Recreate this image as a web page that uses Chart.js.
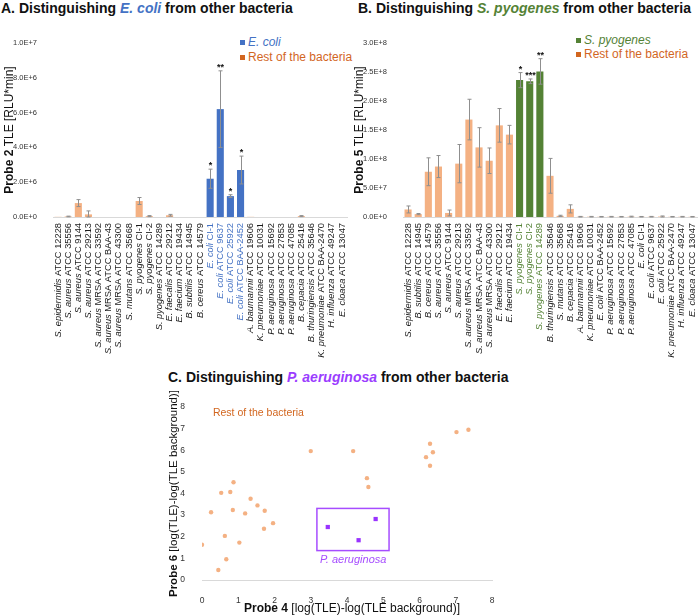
<!DOCTYPE html>
<html>
<head>
<meta charset="utf-8">
<script src="https://cdn.jsdelivr.net/npm/chart.js@4.4.1/dist/chart.umd.min.js"></script>
<style>
body{margin:0;background:#fff;font-family:"Liberation Sans",Arial,sans-serif;}
#page{position:relative;width:700px;height:616px;overflow:hidden;}
canvas{position:absolute;}
.title{position:absolute;font-size:14px;font-weight:bold;color:#111;white-space:nowrap;line-height:16px;}
.leg{position:absolute;font-size:12px;white-space:nowrap;line-height:14px;}
.sq{display:inline-block;width:5px;height:5px;margin-right:3px;vertical-align:1px;}
</style>
</head>
<body>
<div id="page">
  <div class="title" style="left:1px;top:0px">A. Distinguishing <i style="color:#4472c4">E. coli</i> from other bacteria</div>
  <div class="title" style="left:358px;top:0px">B. Distinguishing <i style="color:#548235">S. pyogenes</i> from other bacteria</div>
  <div class="title" style="left:168px;top:369px">C. Distinguishing <i style="color:#9b3dff">P. aeruginosa</i> from other bacteria</div>

  <div class="leg" style="left:240px;top:35px;color:#4472c4"><span class="sq" style="background:#4472c4"></span><i>E. coli</i></div>
  <div class="leg" style="left:240px;top:50px;color:#d2661f"><span class="sq" style="background:#d2661f"></span>Rest of the bacteria</div>
  <div class="leg" style="left:576px;top:33px;color:#548235"><span class="sq" style="background:#548235"></span><i>S. pyogenes</i></div>
  <div class="leg" style="left:576px;top:47px;color:#d2661f"><span class="sq" style="background:#d2661f"></span>Rest of the bacteria</div>

  <canvas id="chartA" width="350" height="360" style="left:0;top:0"></canvas>
  <canvas id="chartB" width="350" height="360" style="left:350px;top:0"></canvas>
  <canvas id="chartC" width="345" height="231" style="left:160px;top:385px"></canvas>
</div>
<script>
// ---- panel A: probe 2 ----
const catsA = [
  "S. epidermidis ATCC 12228", "S. aureus ATCC 35556", "S. aureus ATCC 9144", "S. aureus ATCC 29213",
  "S. aureus MRSA ATCC 33592", "S. aureus MRSA ATCC BAA-43", "S. aureus MRSA ATCC 43300", "S. mutans ATCC 35668",
  "S. pyogenes CI-1", "S. pyogenes CI-2", "S. pyogenes ATCC 14289", "E. faecalis ATCC 29212",
  "E. faecium ATCC 19434", "B. subtilis ATCC 14945", "B. cereus ATCC 14579", "E. coli CI-1",
  "E. coli ATCC 9637", "E. coli ATCC 25922", "E. coli ATCC BAA-2452", "A. baumannii ATCC 19606",
  "K. pneumoniae ATCC 10031", "P. aeruginosa ATCC 15692", "P. aeruginosa ATCC 27853", "P. aeruginosa ATCC 47085",
  "B. cepacia ATCC 25416", "B. thuringiensis ATCC 35646", "K. pneumoniae ATCC BAA-2470", "H. influenza ATCC 49247",
  "E. cloaca ATCC 13047"
];
const valsA = [0.01e6, 0.03e6, 0.8e6, 0.15e6, 0, 0, 0, 0, 0.92e6, 0.05e6, 0, 0.1e6, 0, 0, 0,
  2.2e6, 6.2e6, 1.2e6, 2.7e6, 0.01e6, 0, 0, 0, 0, 0.05e6, 0, 0, 0, 0];
const errsA = [0, 0.02e6, 0.2e6, 0.2e6, 0, 0, 0, 0, 0.2e6, 0.03e6, 0, 0.05e6, 0, 0, 0,
  0.55e6, 2.2e6, 0.08e6, 0.8e6, 0, 0, 0, 0, 0, 0.03e6, 0, 0, 0, 0];
const starsA = ["", "", "", "", "", "", "", "", "", "", "", "", "", "", "",
  "*", "**", "*", "*", "", "", "", "", "", "", "", "", "", ""];
const ticksA = {max: 1e7, step: 2e6};

// ---- panel B: probe 5 ----
const catsB = [
  "S. epidermidis ATCC 12228", "B. subtilis ATCC 14945", "B. cereus ATCC 14579", "S. aureus ATCC 35556",
  "S. aureus ATCC 9144", "S. aureus ATCC 29213", "S. aureus MRSA ATCC 33592", "S. aureus MRSA ATCC BAA-43",
  "S. aureus MRSA ATCC 43300", "E. faecalis ATCC 29212", "E. faecium ATCC 19434", "S. pyogenes CI-1",
  "S. pyogenes CI-2", "S. pyogenes ATCC 14289", "B. thuringiensis ATCC 35646", "S. mutans ATCC 35668",
  "B. cepacia ATCC 25416", "A. baumannii ATCC 19606", "K. pneumoniae ATCC 10031", "E. coli ATCC BAA-2452",
  "P. aeruginosa ATCC 15692", "P. aeruginosa ATCC 27853", "P. aeruginosa ATCC 47085", "E. coli CI-1",
  "E. coli ATCC 9637", "E. coli ATCC 25922", "K. pneumoniae ATCC BAA-2470", "H. influenza ATCC 49247",
  "E. cloaca ATCC 13047"
];
const valsB = [1.3e7, 0.5e7, 7.8e7, 8.7e7, 0.7e7, 9.2e7, 16.8e7, 12.0e7, 9.7e7, 15.8e7, 14.2e7,
  23.6e7, 23.4e7, 25.1e7, 7.1e7, 0.2e7, 1.4e7, 0.05e7, 0.05e7, 0.04e7, 0.05e7, 0.04e7, 0.06e7,
  0.04e7, 0.05e7, 0.08e7, 0.04e7, 0.05e7, 0.04e7];
const errsB = [0.6e7, 0.1e7, 2.4e7, 1.9e7, 0.5e7, 3.3e7, 3.5e7, 3.4e7, 2.2e7, 2.9e7, 1.6e7,
  1.3e7, 0.4e7, 2.2e7, 3.0e7, 0.1e7, 0.7e7, 0.05e7, 0.05e7, 0.05e7, 0.05e7, 0.05e7, 0.08e7,
  0.05e7, 0.05e7, 0.1e7, 0.05e7, 0.05e7, 0.05e7];
const starsB = ["", "", "", "", "", "", "", "", "", "", "", "*", "***", "**", "", "", "", "",
  "", "", "", "", "", "", "", "", "", "", ""];
const ticksB = {max: 3e8, step: 5e7};

// ---- panel C: probe 4 vs probe 6 ----
const restX = [0, 0.25, 0.53, 0.63, 0.67, 0.45, 0.78, 0.87, 0.85, 1.03, 1.19, 1.34, 1.53, 1.73, 1.71, 1.96,
  3.0, 4.17, 4.55, 4.59, 6.18, 6.29, 6.37, 6.29, 7.02, 7.35];
const restY = [1.63, 3.13, 4.03, 2.04, 0.96, 0.46, 4.07, 4.52, 3.24, 1.73, 3.08, 3.76, 3.45, 3.2, 2.37, 2.63,
  5.96, 5.96, 4.71, 4.3, 5.68, 6.3, 5.91, 5.28, 6.84, 6.95];
const paX = [3.47, 4.32, 4.79];
const paY = [2.45, 1.84, 2.82];

const FONT = '"Liberation Sans", Arial, sans-serif';
const ORANGE = '#f4b183';

function runsWidth(ctx, runs) {
  let w = 0;
  runs.forEach(r => { ctx.font = r[1]; w += ctx.measureText(r[0]).width; });
  return w;
}
function drawRuns(ctx, runs, x0, y) {
  let x = x0;
  runs.forEach(r => {
    ctx.font = r[1]; ctx.fillStyle = r[2];
    ctx.fillText(r[0], x, y);
    x += ctx.measureText(r[0]).width;
  });
}
function labelRuns(label, color) {
  const parts = label.split(' ');
  const sp = parts.slice(0, 2).join(' ');
  const rest = ' ' + parts.slice(2).join(' ');
  return [[sp, 'italic 9.3px ' + FONT, color], [rest, '9.3px ' + FONT, color]];
}
function sci(v) {
  if (v === 0) return '0.0E+0';
  const e = Math.floor(Math.log10(v) + 1e-9);
  return (v / Math.pow(10, e)).toFixed(1) + 'E+' + e;
}

const barExtras = {
  id: 'barExtras',
  afterDatasetsDraw(chart, args, o) {
    const {ctx, chartArea, scales: {x, y}} = chart;
    const vals = chart.data.datasets[0].data;
    ctx.save();
    // error bars + significance
    ctx.strokeStyle = '#8f8f8f';
    ctx.lineWidth = 1;
    vals.forEach((v, i) => {
      const e = o.errs[i];
      const px = Math.round(x.getPixelForValue(i)) + 0.5;
      if (e) {
        const yt = y.getPixelForValue(v + e), yb = y.getPixelForValue(Math.max(0, v - e));
        ctx.beginPath();
        ctx.moveTo(px, yt); ctx.lineTo(px, yb);
        ctx.moveTo(px - 2, yt); ctx.lineTo(px + 2, yt);
        ctx.moveTo(px - 2, yb); ctx.lineTo(px + 2, yb);
        ctx.stroke();
      }
      if (o.stars[i]) {
        const yt = y.getPixelForValue(v + e);
        ctx.fillStyle = '#111';
        ctx.font = 'bold 9px ' + FONT;
        ctx.textAlign = 'center';
        ctx.textBaseline = 'alphabetic';
        ctx.fillText(o.stars[i], px, yt - 1);
      }
    });
    // rotated category labels, species in italics
    ctx.textAlign = 'left';
    ctx.textBaseline = 'middle';
    chart.data.labels.forEach((lab, i) => {
      const col = lab.startsWith(o.hi) ? o.hiColor : '#1a1a1a';
      const runs = labelRuns(lab, col);
      const w = runsWidth(ctx, runs);
      ctx.save();
      ctx.translate(x.getPixelForValue(i), chartArea.bottom + 6);
      ctx.rotate(-Math.PI / 2);
      drawRuns(ctx, runs, -w, 0);
      ctx.restore();
    });
    // y axis title
    const t = [[o.probe, 'bold 12px ' + FONT, '#111'], [' TLE [RLU*min]', '12px ' + FONT, '#111']];
    const tw = runsWidth(ctx, t);
    ctx.translate(10, (chartArea.top + chartArea.bottom) / 2);
    ctx.rotate(-Math.PI / 2);
    drawRuns(ctx, t, -tw / 2, 0);
    ctx.restore();
  }
};

function barChart(id, cats, vals, errs, stars, tk, hi, hiColor, probe) {
  return new Chart(document.getElementById(id), {
    type: 'bar',
    data: {
      labels: cats,
      datasets: [{
        data: vals,
        backgroundColor: cats.map(c => c.startsWith(hi) ? hiColor : ORANGE),
        barPercentage: 0.7,
        categoryPercentage: 1
      }]
    },
    options: {
      responsive: false,
      animation: false,
      layout: {padding: {top: 43, right: 3, left: 0, bottom: 0}},
      plugins: {
        legend: {display: false},
        tooltip: {enabled: false},
        barExtras: {errs: errs, stars: stars, hi: hi, hiColor: hiColor, probe: probe}
      },
      scales: {
        x: {
          offset: true,
          grid: {display: false},
          border: {display: true, color: '#d9d9d9'},
          ticks: {display: false},
          afterFit(s) { s.height = 143; }
        },
        y: {
          min: 0, max: tk.max,
          grid: {display: false},
          border: {display: false},
          ticks: {stepSize: tk.step, padding: 8, color: '#333', font: {size: 7.5, family: FONT},
                  callback: v => sci(v)},
          afterFit(s) { s.width = 53; }
        }
      }
    },
    plugins: [barExtras]
  });
}

barChart('chartA', catsA, valsA, errsA, starsA, ticksA, 'E. coli', '#4472c4', 'Probe 2');
barChart('chartB', catsB, valsB, errsB, starsB, ticksB, 'S. pyogenes', '#548235', 'Probe 5');

// ---- scatter ----
const scatterExtras = {
  id: 'scatterExtras',
  afterDatasetsDraw(chart) {
    const {ctx, chartArea, scales: {x, y}} = chart;
    ctx.save();
    // box around the P. aeruginosa group
    ctx.strokeStyle = '#a64dff';
    ctx.lineWidth = 1.5;
    const bx0 = x.getPixelForValue(3.17), bx1 = x.getPixelForValue(5.16);
    const by0 = y.getPixelForValue(3.31), by1 = y.getPixelForValue(1.36);
    ctx.strokeRect(bx0, by0, bx1 - bx0, by1 - by0);
    ctx.textBaseline = 'middle';
    ctx.textAlign = 'center';
    ctx.font = 'italic 11px ' + FONT;
    ctx.fillStyle = '#a64dff';
    ctx.fillText('P. aeruginosa', x.getPixelForValue(4.17), y.getPixelForValue(0.95));
    ctx.textAlign = 'left';
    ctx.font = '10.5px ' + FONT;
    ctx.fillStyle = '#d2661f';
    ctx.fillText('Rest of the bacteria', x.getPixelForValue(0.3), y.getPixelForValue(7.7));
    // axis titles
    ctx.textAlign = 'left';
    const xt = [['Probe 4', 'bold 12px ' + FONT, '#111'], [' [log(TLE)-log(TLE background)]', '12px ' + FONT, '#111']];
    const xw = runsWidth(ctx, xt);
    drawRuns(ctx, xt, (chartArea.left + chartArea.right) / 2 - xw / 2 + 5, 224);
    const yt = [['Probe 6', 'bold 11.5px ' + FONT, '#111'], [' [log(TLE)-log(TLE background)]', '11.5px ' + FONT, '#111']];
    const yw = runsWidth(ctx, yt);
    ctx.translate(14, (chartArea.top + chartArea.bottom) / 2);
    ctx.rotate(-Math.PI / 2);
    drawRuns(ctx, yt, -yw / 2, 0);
    ctx.restore();
  }
};

new Chart(document.getElementById('chartC'), {
  type: 'scatter',
  data: {
    datasets: [
      {
        data: restX.map((v, i) => ({x: v, y: restY[i]})),
        backgroundColor: ORANGE, borderWidth: 0, pointRadius: 2.2
      },
      {
        data: paX.map((v, i) => ({x: v, y: paY[i]})),
        backgroundColor: '#9933ff', borderWidth: 0, pointStyle: 'rect', pointRadius: 3
      }
    ]
  },
  options: {
    responsive: false,
    animation: false,
    layout: {padding: {top: 22, right: 13, left: 0, bottom: 0}},
    plugins: {legend: {display: false}, tooltip: {enabled: false}},
    scales: {
      x: {
        min: 0, max: 8,
        grid: {display: false},
        border: {display: true, color: '#d9d9d9'},
        ticks: {stepSize: 1, padding: 8, color: '#333', font: {size: 8.5, family: FONT}},
        afterFit(s) { s.height = 36; }
      },
      y: {
        min: 0, max: 8,
        grid: {display: false},
        border: {display: false},
        ticks: {stepSize: 1, padding: 9, color: '#333', font: {size: 8.5, family: FONT}},
        afterFit(s) { s.width = 42; }
      }
    }
  },
  plugins: [scatterExtras]
});
</script>
</body>
</html>
